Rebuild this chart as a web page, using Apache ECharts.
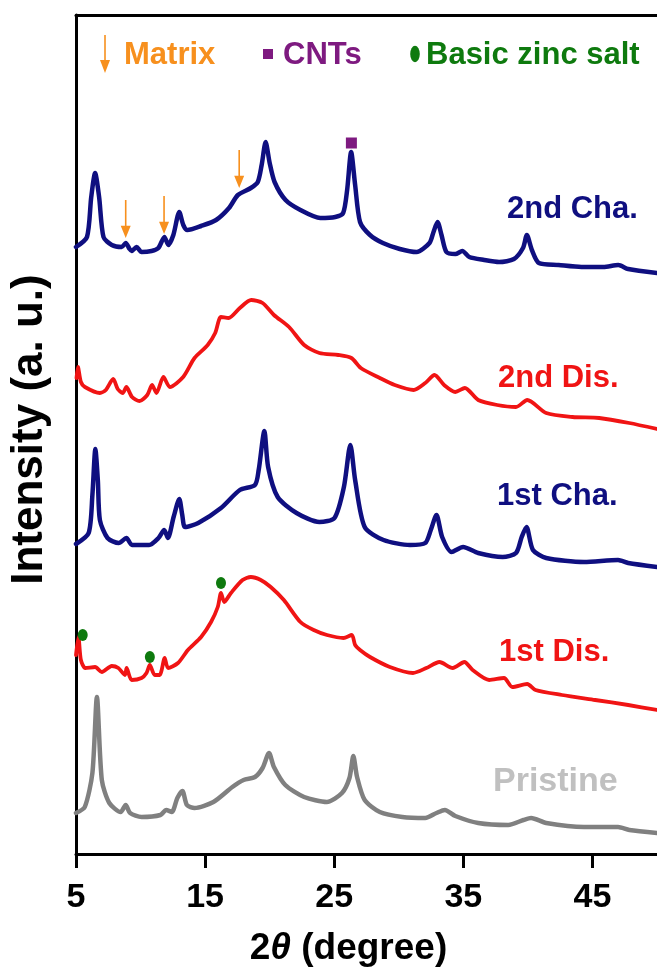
<!DOCTYPE html>
<html><head><meta charset="utf-8">
<script src="https://cdn.jsdelivr.net/npm/echarts@6/dist/echarts.min.js"></script>
<style>html,body{margin:0;padding:0;background:#fff}#c{width:657px;height:977px}</style>
</head><body><div id="c"></div>
<script>
// tick labels (2θ, degree)
const xTicks = [5, 15, 25, 35, 45];

// 2nd Cha. (stacked intensity, a.u.)
const cha2X = [5.0,5.85,6.18,6.48,6.79,7.13,7.77,8.54,8.85,9.15,9.31,9.69,10.08,10.85,11.38,11.85,12.15,12.54,13.0,13.31,13.62,14.69,15.85,16.85,17.54,18.54,19.08,19.38,19.69,20.0,20.38,21.23,22.38,23.92,25.08,25.69,26.0,26.31,26.62,27.0,27.77,28.77,30.08,31.38,32.38,32.69,33.0,33.31,33.69,34.38,34.92,35.46,36.62,37.77,38.92,39.62,39.92,40.31,40.85,42.38,44.15,45.85,47.0,47.77,50.0];
const cha2Y = [607,617,657,681,657,617,609,607,611,605,603,607,602,603,606,617,609,619,642,629,624,628,634,646,659,666,672,689,712,691,672,654,644,636,637,641,664,702,669,632,619,611,605,602,611,622,632,619,602,600,603,597,594,592,595,606,619,604,591,589,587,587,589,585,581];

// 2nd Dis.
const dis2X = [5.04,5.15,5.38,5.69,6.85,7.31,7.88,8.23,8.62,8.9,9.34,9.92,10.52,10.89,11.23,11.77,12.27,13.3,14.18,15.2,15.78,16.23,16.82,17.69,18.57,19.45,20.33,21.5,22.67,23.85,25.31,26.33,27.06,28.53,29.69,31.15,32.05,32.77,33.51,34.38,35.12,36.15,37.62,39.08,39.95,41.42,43.46,45.52,47.85,50.0];
const dis2Y = [476,487,472,467,461,464,475,465,461,467,457,453,459,469,461,477,467,477,496,509,521,537,536,546,554,551,539,527,509,501,499,496,486,476,469,464,471,479,469,462,466,454,449,447,454,441,437,436,431,425];

// 1st Cha.
const cha1X = [5.0,5.98,6.27,6.5,6.69,6.85,7.44,8.31,8.9,9.34,10.66,11.39,11.83,12.12,12.56,13.0,13.23,13.45,14.47,16.23,17.69,18.86,19.15,19.59,19.88,20.62,22.08,23.85,25.02,25.75,26.25,26.62,27.36,28.82,30.87,32.05,32.48,32.92,33.36,34.09,34.98,36.15,38.05,39.08,39.52,39.89,40.39,41.42,44.35,46.98,47.77,50.0];
const cha1Y = [310,321,359,405,374,334,316,311,316,309,309,316,324,316,337,355,339,327,331,346,364,369,384,423,387,357,341,332,336,367,409,374,327,314,309,311,324,339,317,302,307,301,297,301,317,327,304,296,292,294,291,287];

// 1st Dis.
const dis1X = [5.0,5.19,5.38,5.72,6.48,7.0,7.77,8.28,8.79,8.92,9.31,10.08,10.46,10.72,11.1,11.48,11.87,12.13,12.9,13.67,14.69,15.46,15.98,16.23,16.48,17.0,17.9,18.54,19.31,20.08,21.1,22.38,23.41,24.44,25.72,26.36,26.62,27.0,27.77,29.31,31.1,32.13,33.15,34.18,35.08,35.72,37.0,38.15,38.79,39.95,40.59,42.64,45.21,47.77,50.0];
const dis1Y = [199,217,194,186,187,182,188,186,179,186,174,176,181,189,179,179,196,186,191,204,217,232,247,261,252,261,274,277,274,267,254,232,224,219,216,219,209,204,197,187,181,186,192,186,192,184,174,176,167,170,164,159,154,149,144];

// Pristine
const priX = [5.0,5.68,6.27,6.62,7.0,7.58,8.46,8.85,9.19,10.08,11.54,11.98,12.42,12.85,13.24,13.59,14.18,15.64,17.11,17.98,18.86,19.45,19.95,20.33,21.21,22.67,24.43,25.6,26.18,26.48,26.77,27.36,28.53,30.28,32.05,32.92,33.57,34.38,36.15,38.48,39.66,40.25,41.42,44.35,46.98,47.86,50.0];
const priY = [41,47,81,157,74,51,42,49,41,37,39,44,42,56,63,49,46,52,67,74,77,86,101,87,69,57,52,61,76,98,77,54,42,37,36,41,44,38,31,29,34,36,31,27,27,24,21];

// peak markers
const matrixX = [8.85, 11.82, 17.64];
const matrixY = [635, 639, 685];
const cntX = [26.33];
const cntY = [711];
const zincX = [5.52, 10.72, 16.23];
const zincY = [219, 197, 271];

const zip = (a, b) => a.map((v, i) => [v, b[i]]);
const FONT = 'Liberation Sans, Arial, sans-serif';
const NAVY = '#0F0F80', RED = '#F01414', GRAY = '#808080';
const ORANGE = '#F7901E', PURPLE = '#7E1A80', GREEN = '#0E7A0E';
const ARROW = 'path://M4.2,0L5.8,0L5.8,27L10,27L5,40L0,27L4.2,27Z';

function line(name, x, y, color, w) {
  return { name, type: 'line', data: zip(x, y), showSymbol: false, symbol: 'none',
    lineStyle: { color, width: w, join: 'round', cap: 'round' }, smooth: 0.25, z: 3, animation: false };
}

const chart = echarts.init(document.getElementById('c'), null, { renderer: 'canvas' });
const lbl = (text, x, y, color, fs) => ({ type: 'text', left: x, top: y - 17,
  style: { text, fill: color, font: 'bold ' + (fs || 31) + 'px ' + FONT } });

chart.setOption({
  animation: false,
  backgroundColor: '#fff',
  grid: { left: 74, right: -2, top: 15, bottom: 123 },
  xAxis: [{
    type: 'value', min: 5, max: 50, position: 'bottom',
    axisLine: { show: true, lineStyle: { color: '#000', width: 3 } },
    axisTick: { show: true, customValues: xTicks, length: 14, lineStyle: { color: '#000', width: 3 } },
    axisLabel: { customValues: xTicks, margin: 27, color: '#000', fontSize: 34, fontWeight: 'bold', fontFamily: FONT },
    splitLine: { show: false },
    name: '{a|2}{b|θ}{a| (degree)}', nameLocation: 'middle', nameGap: 76,
    nameTextStyle: { padding: [0, 36, 0, 0], rich: {
      a: { fontSize: 37, fontWeight: 'bold', fontFamily: FONT, color: '#000' },
      b: { fontSize: 37, fontWeight: 'bold', fontStyle: 'italic', fontFamily: FONT, color: '#000' } } }
  }, {
    type: 'value', min: 5, max: 50, position: 'top',
    axisLine: { show: true, lineStyle: { color: '#000', width: 3 } },
    axisTick: { show: false }, axisLabel: { show: false }, splitLine: { show: false }
  }],
  yAxis: {
    type: 'value', min: 0, max: 839,
    axisLine: { show: true, lineStyle: { color: '#000', width: 3 } },
    axisTick: { show: false }, axisLabel: { show: false }, splitLine: { show: false },
    name: 'Intensity (a. u.)', nameLocation: 'middle', nameGap: 24, nameRotate: 90,
    nameTextStyle: { fontSize: 44, fontWeight: 'bold', fontFamily: FONT, color: '#000', padding: [0, 0, 0, 10] }
  },
  series: [
    line('Pristine', priX, priY, GRAY, 4.5),
    line('1st Dis.', dis1X, dis1Y, RED, 3.8),
    line('1st Cha.', cha1X, cha1Y, NAVY, 4.5),
    line('2nd Dis.', dis2X, dis2Y, RED, 3.8),
    line('2nd Cha.', cha2X, cha2Y, NAVY, 4.5),
    { type: 'scatter', data: zip(matrixX, matrixY), symbol: ARROW, symbolSize: [10, 38],
      itemStyle: { color: ORANGE, opacity: 1 }, z: 5, silent: true },
    { type: 'scatter', data: zip(cntX, cntY), symbol: 'rect', symbolSize: 11,
      itemStyle: { color: PURPLE, opacity: 1 }, z: 5, silent: true },
    { type: 'scatter', data: zip(zincX, zincY), symbol: 'circle', symbolSize: [10, 12],
      itemStyle: { color: GREEN, opacity: 1 }, z: 5, silent: true }
  ],
  graphic: [
    { type: 'rect', shape: { x: 104.2, y: 35, width: 1.6, height: 26 }, style: { fill: ORANGE } },
    { type: 'polygon', shape: { points: [[100, 60], [110, 60], [105, 73]] }, style: { fill: ORANGE } },
    { type: 'text', left: 124, top: 40, style: { text: 'Matrix', fill: ORANGE, font: 'bold 31px ' + FONT } },
    { type: 'rect', shape: { x: 263, y: 49, width: 10, height: 10 }, style: { fill: PURPLE } },
    { type: 'text', left: 283, top: 40, style: { text: 'CNTs', fill: PURPLE, font: 'bold 31px ' + FONT } },
    { type: 'circle', x: 415, y: 54, scaleY: 1.7, shape: { cx: 0, cy: 0, r: 4.8 }, style: { fill: GREEN } },
    { type: 'text', left: 426, top: 40, style: { text: 'Basic zinc salt', fill: GREEN, font: 'bold 31px ' + FONT } },
    lbl('2nd Cha.', 507, 211, NAVY),
    lbl('2nd Dis.', 498, 380, RED),
    lbl('1st Cha.', 497, 498, NAVY),
    lbl('1st Dis.', 499, 654, RED),
    lbl('Pristine', 493, 782, '#C0C0C0', 34)
  ]
});
</script></body></html>
